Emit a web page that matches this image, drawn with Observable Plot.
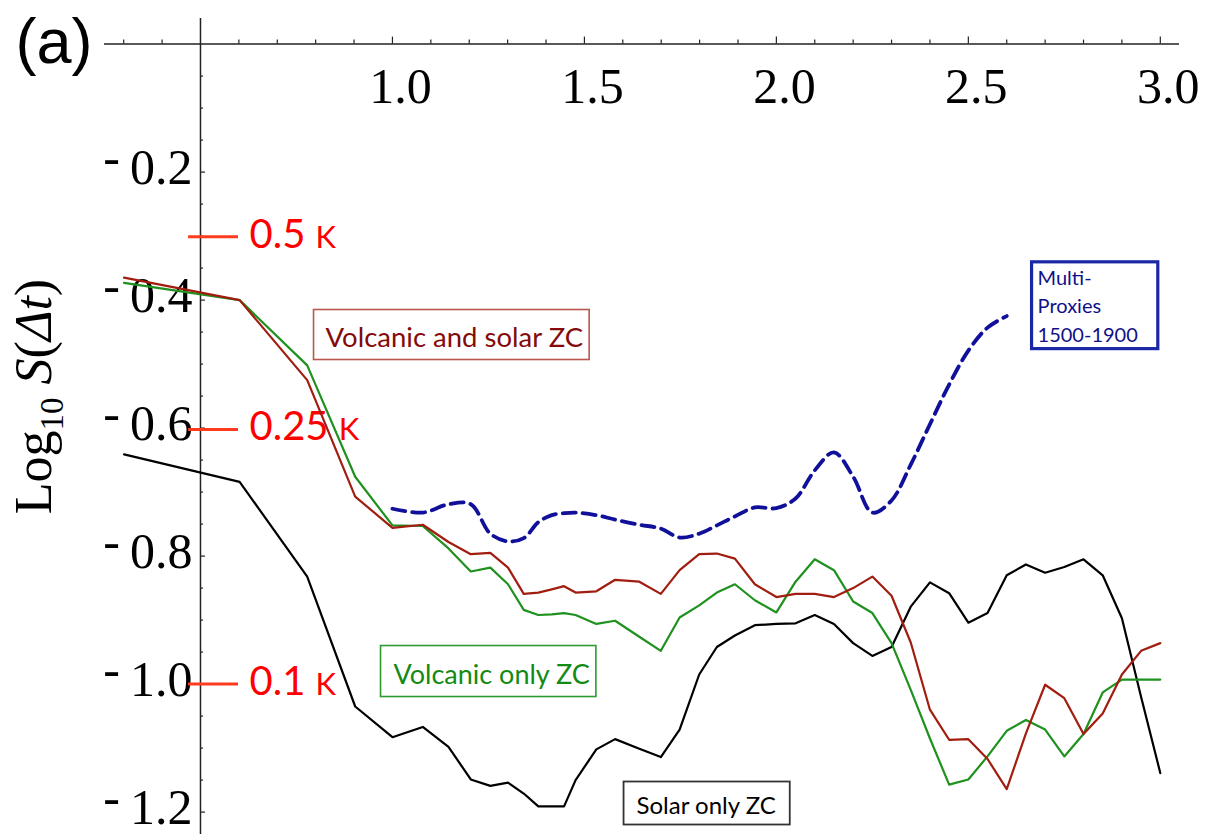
<!DOCTYPE html>
<html>
<head>
<meta charset="utf-8">
<script src="https://cdn.jsdelivr.net/npm/d3@7"></script>
<script src="https://cdn.jsdelivr.net/npm/@observablehq/plot@0.6"></script>
<style>
  body { margin: 0; background: #fff; }
  #chart svg { display: block; }
</style>
</head>
<body>
<div id="chart"></div>
<script>
// ---------- data (log10 of the time lag, and log10 S(Δt) for each series) ----------
const logDt = [0.301, 0.602, 0.778, 0.903, 1.0, 1.079, 1.146, 1.204, 1.255, 1.301, 1.342, 1.380, 1.415,
  1.447, 1.477, 1.531, 1.580, 1.643, 1.699, 1.748, 1.799, 1.845, 1.892, 1.944, 2.0, 2.05, 2.10, 2.15,
  2.20, 2.25, 2.30, 2.35, 2.40, 2.45, 2.50, 2.55, 2.60, 2.65, 2.70, 2.75, 2.80, 2.85, 2.90, 2.95, 3.0];

const volcanicSolar = [-0.365, -0.400, -0.525, -0.707, -0.756, -0.751, -0.778, -0.797, -0.795, -0.818,
  -0.859, -0.857, -0.852, -0.847, -0.857, -0.855, -0.837, -0.840, -0.859, -0.822, -0.797, -0.796, -0.804,
  -0.844, -0.864, -0.859, -0.859, -0.864, -0.850, -0.832, -0.862, -0.935, -1.040, -1.087, -1.086, -1.117,
  -1.164, -1.077, -1.001, -1.022, -1.078, -1.046, -0.985, -0.948, -0.936];

const volcanicOnly = [-0.373, -0.400, -0.502, -0.676, -0.752, -0.753, -0.788, -0.824, -0.818, -0.844,
  -0.884, -0.892, -0.891, -0.889, -0.892, -0.906, -0.901, -0.926, -0.948, -0.896, -0.877, -0.857, -0.844,
  -0.869, -0.888, -0.840, -0.805, -0.822, -0.871, -0.889, -0.936, -1.009, -1.085, -1.157, -1.149, -1.113,
  -1.073, -1.056, -1.071, -1.113, -1.078, -1.013, -0.993, -0.993, -0.993];

const solarOnly = [-0.641, -0.684, -0.832, -1.035, -1.083, -1.067, -1.098, -1.149, -1.159, -1.154,
  -1.171, -1.191, -1.191, -1.191, -1.150, -1.102, -1.086, -1.101, -1.114, -1.071, -0.985, -0.942, -0.924,
  -0.908, -0.906, -0.905, -0.892, -0.906, -0.936, -0.956, -0.942, -0.879, -0.841, -0.858, -0.904, -0.889,
  -0.830, -0.813, -0.826, -0.817, -0.805, -0.830, -0.897, -1.020, -1.139];

const multiProxyDt = [1.0, 1.079, 1.146, 1.204, 1.255, 1.301, 1.342, 1.380, 1.415, 1.447, 1.477, 1.531,
  1.580, 1.643, 1.699, 1.748, 1.799, 1.845, 1.892, 1.944, 2.0, 2.05, 2.10, 2.15, 2.20, 2.25, 2.30, 2.35,
  2.40, 2.45, 2.50, 2.55, 2.60];
const multiProxy = [-0.726, -0.732, -0.719, -0.719, -0.765, -0.777, -0.772, -0.747, -0.736, -0.733,
  -0.732, -0.736, -0.743, -0.751, -0.757, -0.771, -0.765, -0.752, -0.738, -0.724, -0.725, -0.710, -0.666,
  -0.638, -0.676, -0.732, -0.713, -0.657, -0.594, -0.532, -0.479, -0.443, -0.425];

const xTickValues = [0.3, 0.4, 0.6, 0.7, 0.8, 0.9, 1.0, 1.1, 1.2, 1.3, 1.4, 1.5, 1.6, 1.7, 1.8, 1.9,
  2.0, 2.1, 2.2, 2.3, 2.4, 2.5, 2.6, 2.7, 2.8, 2.9, 3.0];
const xTickLabels = [1.0, 1.5, 2.0, 2.5, 3.0];
const yTickValues = [-0.05, -0.1, -0.15, -0.2, -0.25, -0.3, -0.35, -0.4, -0.45, -0.5, -0.55, -0.6,
  -0.65, -0.7, -0.75, -0.8, -0.85, -0.9, -0.95, -1.0, -1.05, -1.1, -1.15, -1.2];
const yTickLabels = [-0.2, -0.4, -0.6, -0.8, -1.0, -1.2];
const kelvinMarks = [0.5, 0.25, 0.1];
const seriesNames = ["Volcanic and solar ZC", "Volcanic only ZC", "Solar only ZC", "Multi-\nProxies\n1500-1900"];
const yTitle = "Log10 S(Δt)";

// ---------- layout & style ----------
const W = 1208, H = 834, mL = 104, mR = 29, mT = 18, mB = 0;
const xDom = [0.25, 3.05], yDom = [-1.235, 0.04];
const pxX = (xDom[1] - xDom[0]) / (W - mL - mR);
const pxY = (yDom[1] - yDom[0]) / (H - mT - mB);
const serif = "'Liberation Serif', 'Times New Roman', serif";
const sans = "Lato, 'Open Sans', sans-serif";
const RED = "#a11d10", GREEN = "#1f911f", NAVY = "#10109a";
const rows = (ys, xs = logDt) => xs.map((x, i) => ({x, y: ys[i]}));
const isMajorX = d => d >= 1 && Math.abs(d * 2 - Math.round(d * 2)) < 1e-6;
const isMajorY = d => Math.abs(d * 5 - Math.round(d * 5)) < 1e-6;

const label = (i, opts) => Plot.text([seriesNames[i]], {text: d => d, fontFamily: sans, textAnchor: "start", ...opts});

const chart = Plot.plot({
  width: W, height: H,
  marginLeft: mL, marginRight: mR, marginTop: mT, marginBottom: mB,
  x: {domain: xDom, axis: null},
  y: {domain: yDom, axis: null},
  style: {background: "white", overflow: "visible"},
  marks: [
    // axes
    Plot.ruleY([0], {x1: xDom[0], x2: xDom[1], stroke: "#222", strokeWidth: 1.5}),
    Plot.ruleX([0.5], {y1: yDom[0], y2: yDom[1], stroke: "#222", strokeWidth: 1.5}),
    Plot.ruleX(xTickValues, {x: d => d, y1: 0, y2: d => (isMajorX(d) ? 7 : 4) * pxY, stroke: "#222", strokeWidth: 1.2}),
    Plot.ruleY(yTickValues, {y: d => d, x1: 0.5, x2: d => 0.5 + (isMajorY(d) ? 5 : 3) * pxX, stroke: "#222", strokeWidth: 1.2}),
    Plot.text(xTickLabels, {x: d => d, y: 0, text: d => d.toFixed(1), dx: 8, dy: 43, lineAnchor: "middle",
      fontSize: 50, fontFamily: serif, fill: "#000"}),
    Plot.text(yTickLabels, {x: 0.5, y: d => d, text: d => "-\u2009" + Math.abs(d).toFixed(1), textAnchor: "end",
      dx: -8, dy: -4, lineAnchor: "middle", fontSize: 50, fontFamily: serif, fill: "#000"}),
    // temperature reference marks
    Plot.ruleY(kelvinMarks, {y: d => Math.log10(d), x1: 0.469, x2: 0.599, stroke: "#ff3b1f", strokeWidth: 3}),
    Plot.text(kelvinMarks, {x: 0.599, y: d => Math.log10(d), text: d => `${d} K`, dx: 11, dy: -2,
      textAnchor: "start", lineAnchor: "middle", fill: "#ff0000", fontSize: 40, fontFamily: sans}),
    // series
    Plot.line(rows(solarOnly), {x: "x", y: "y", stroke: "#000", strokeWidth: 2.2}),
    Plot.line(rows(volcanicOnly), {x: "x", y: "y", stroke: GREEN, strokeWidth: 2.2}),
    Plot.line(rows(volcanicSolar), {x: "x", y: "y", stroke: RED, strokeWidth: 2.2}),
    Plot.line(rows(multiProxy, multiProxyDt), {x: "x", y: "y", stroke: NAVY, strokeWidth: 3.8,
      strokeDasharray: "13,7", curve: "catmull-rom"}),
    // series labels
    label(0, {x: 0.8257, y: -0.4725, lineAnchor: "bottom", fontSize: 27.5, fill: "#850a0a"}),
    label(1, {x: 1.0028, y: -0.9991, lineAnchor: "bottom", fontSize: 27, fill: "#138a13"}),
    label(2, {x: 1.6358, y: -1.2022, lineAnchor: "bottom", fontSize: 24, fill: "#000"}),
    label(3, {x: 2.6803, y: -0.4063, lineAnchor: "middle", fontSize: 20, lineHeight: 1.42, fill: "#10108a"}),
    // panel tag and y title
    Plot.text(["(a)"], {frameAnchor: "top-left", text: d => d, dx: -89, dy: 44, lineAnchor: "bottom",
      textAnchor: "start", fontSize: 63, fontFamily: "'Liberation Sans', Arial, sans-serif", fill: "#000"}),
    Plot.text([yTitle], {frameAnchor: "left", text: d => d, rotate: -90, dx: -54, dy: -30,
      lineAnchor: "bottom", textAnchor: "middle", fontSize: 52, fontFamily: serif, fill: "#000"})
  ]
});

document.getElementById("chart").appendChild(chart);
const svg = d3.select(chart);
const NS = "http://www.w3.org/2000/svg";

// boxes round the series labels
const boxStyle = [
  {stroke: "#b8574c", width: 1.6, pad: [12, 6, 10, 7]},
  {stroke: "#2f9a2f", width: 1.6, pad: [13, 6, 11, 7]},
  {stroke: "#333333", width: 1.8, pad: [13, 14, 8, 6]},
  {stroke: "#1a28a6", width: 3.2, pad: [6, 20, 3, 3]}
];
const flatNames = seriesNames.map(s => s.replace(/\n/g, ""));

svg.selectAll("text").each(function () {
  const s = this.textContent;
  const t = d3.select(this);
  const li = flatNames.indexOf(s);
  if (li >= 0) {
    const st = boxStyle[li];
    const b = this.getBBox();
    const r = document.createElementNS(NS, "rect");
    r.setAttribute("x", b.x - st.pad[0]);
    r.setAttribute("y", b.y - st.pad[2]);
    r.setAttribute("width", b.width + st.pad[0] + st.pad[1]);
    r.setAttribute("height", b.height + st.pad[2] + st.pad[3]);
    r.setAttribute("fill", "none");
    r.setAttribute("stroke", st.stroke);
    r.setAttribute("stroke-width", st.width);
    const tr = this.getAttribute("transform");
    if (tr) r.setAttribute("transform", tr);
    this.parentNode.insertBefore(r, this);
  } else if (/^[\d.]+ K$/.test(s)) {
    // smaller "K"
    const num = s.split(" ")[0];
    t.text(num + " ");
    t.append("tspan").attr("font-size", 31).text("K");
  } else if (s === yTitle) {
    // Log with subscript 10, italic S and Δt
    t.text("");
    t.append("tspan").text("Log");
    t.append("tspan").attr("font-size", 33).attr("dy", 12).text("10");
    t.append("tspan").attr("dy", -12).text("\u00a0");
    t.append("tspan").attr("font-style", "italic").text("S");
    t.append("tspan").text("(");
    t.append("tspan").attr("font-style", "italic").text("Δt");
    t.append("tspan").text(")");
  } else if (s.startsWith("-\u2009")) {
    // raised minus sign as in the original tick labels
    const rest = s.slice(2);
    t.text("");
    t.append("tspan").attr("dy", -10).text("-\u2009");
    t.append("tspan").attr("dy", 10).text(rest);
  }
});
</script>
</body>
</html>
